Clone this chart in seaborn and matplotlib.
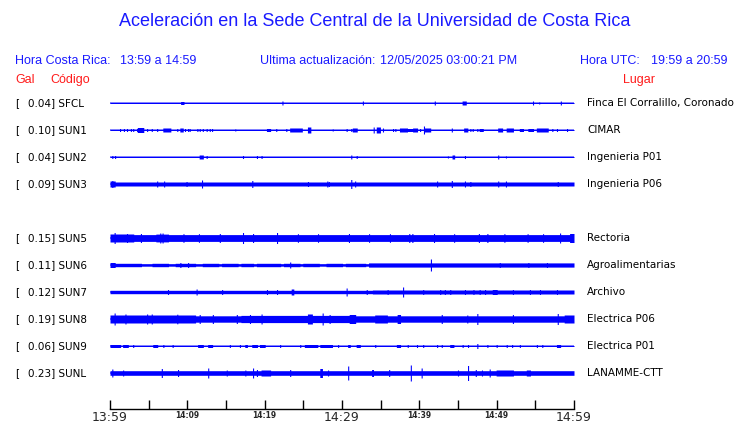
import matplotlib
matplotlib.use("Agg")
import matplotlib.pyplot as plt
import numpy as np
import pandas as pd
import seaborn as sns

# Station data (left/right labels)
codes = ["SFCL", "SUN1", "SUN2", "SUN3", "SUN5", "SUN6", "SUN7", "SUN8", "SUN9", "SUNL"]
gal = [0.04, 0.10, 0.04, 0.09, 0.15, 0.11, 0.12, 0.19, 0.06, 0.23]
places = ["Finca El Corralillo, Coronado", "CIMAR", "Ingenieria P01", "Ingenieria P06",
          "Rectoria", "Agroalimentarias", "Archivo", "Electrica P06", "Electrica P01",
          "LANAMME-CTT"]
rows = [0, 1, 2, 3, 5, 6, 7, 8, 9, 10]  # SUN4 slot left empty

# Trace amplitude (pixels of half-width):
# base level plus events (start minute, end minute, amplitude)
base = [0.5, 0.5, 0.5, 2.0, 3.4, 1.2, 1.7, 3.2, 0.5, 2.3]

ev_sfcl = [(9.2, 9.5, 1.5), (22.3, 22.3, 2), (32.7, 32.7, 2), (42.0, 42.0, 2), (45.6, 46.0, 2),
           (54.7, 54.7, 2), (55.5, 55.5, 1), (58.3, 58.3, 2)]
ev_sun1 = [(1.3, 1.3, 1.5), (1.8, 1.8, 1.5), (2.2, 2.2, 1.5), (2.7, 2.7, 1.5), (3.0, 3.0, 1.5),
           (3.5, 3.5, 1.5), (3.6, 4.3, 2.5), (4.8, 4.8, 1.5), (5.4, 5.4, 1.5), (6.1, 6.1, 1.5),
           (6.9, 7.8, 2), (8.7, 8.7, 1.5), (9.1, 9.4, 2), (9.7, 9.7, 1.5), (10.1, 10.1, 1.5),
           (10.3, 10.3, 1.5), (11.3, 11.3, 1.5), (11.6, 11.6, 1.5), (12.0, 12.0, 1.5),
           (12.5, 12.5, 1.5), (12.9, 12.9, 1.5), (13.2, 13.2, 1.5), (16.2, 16.2, 1),
           (20.3, 20.7, 1.5), (21.5, 21.5, 1.5), (22.8, 22.8, 1.5), (23.3, 24.8, 2),
           (25.6, 25.9, 3), (28.8, 28.8, 1), (30.6, 30.6, 1.5), (31.2, 31.2, 1.5),
           (31.4, 31.9, 2), (34.1, 34.1, 3), (34.5, 34.9, 3), (35.3, 35.3, 2), (36.6, 36.6, 1.5),
           (36.9, 36.9, 1.5), (37.5, 38.4, 2), (38.5, 39.1, 1.5), (39.2, 39.7, 2),
           (40.1, 40.1, 1.5), (40.6, 40.6, 4), (40.7, 41.4, 2), (44.2, 44.2, 2), (45.8, 46.2, 2),
           (46.6, 46.6, 1.5), (46.9, 46.9, 1.5), (47.5, 47.5, 1.5), (47.8, 48.2, 1.5),
           (50.2, 50.7, 2), (51.3, 52.1, 2), (53.0, 53.4, 1.5), (54.1, 54.7, 1.5),
           (55.2, 56.6, 2), (57.2, 57.2, 1.5), (57.8, 57.8, 1.5), (59.1, 59.1, 1.5)]
ev_sun2 = [(0.3, 0.3, 1.5), (0.65, 0.65, 1.5), (11.6, 12.0, 2), (12.5, 12.5, 1.5),
           (17.2, 17.2, 1.5), (19.0, 19.0, 1.5), (19.6, 19.6, 1.5), (31.2, 31.2, 2),
           (31.9, 31.9, 1.5), (43.7, 43.7, 1), (44.3, 44.5, 2), (45.9, 45.9, 1.5),
           (50.2, 50.2, 2), (51.2, 51.2, 1)]
ev_sun3 = [(0.0, 0.6, 3), (0.3, 0.3, 3.5), (6.1, 6.1, 3), (7.0, 7.0, 3), (9.9, 9.9, 2.5),
           (11.9, 11.9, 4), (18.4, 18.4, 3.5), (25.6, 25.6, 2.5), (28.1, 28.1, 3),
           (28.3, 28.3, 2.5), (31.2, 31.2, 4.5), (31.7, 31.7, 3), (42.3, 42.3, 3),
           (44.2, 44.2, 3.5), (45.9, 45.9, 3), (46.6, 46.6, 2.5), (50.2, 50.2, 3),
           (51.2, 51.2, 3), (57.9, 57.9, 2.5)]
ev_sun5 = [(0.0, 3.0, 4.0), (0.6, 0.6, 5.5), (6.0, 7.5, 3.9), (6.5, 6.5, 5), (6.8, 6.8, 5),
           (2.2, 2.2, 4.5), (4.0, 4.0, 4.5), (9.5, 9.5, 4.3), (11.5, 11.5, 4.3),
           (14.2, 14.2, 4.5), (17.2, 17.2, 5.5), (18.5, 18.5, 4.5), (21.6, 21.6, 5.5),
           (24.3, 24.3, 4.3), (26.9, 26.9, 4.3), (30.9, 30.9, 4.5), (33.5, 33.5, 4.3),
           (36.2, 36.2, 4.3), (38.7, 38.7, 4.5), (39.1, 39.1, 4.5), (41.9, 41.9, 4.5),
           (44.5, 44.5, 4.3), (47.7, 47.7, 4.5), (48.8, 48.8, 4.5), (51.0, 51.0, 4.3),
           (54.0, 54.0, 4.3), (56.0, 56.0, 4.3), (58.2, 58.2, 5), (59.5, 60.0, 4.5)]
ev_sun6 = [(0.0, 4.0, 1.7), (5.5, 7.5, 1.7), (8.5, 11.0, 1.7), (12.0, 14.0, 1.7),
           (14.5, 16.5, 1.7), (17.0, 18.5, 1.7), (19.0, 22.0, 1.7), (22.5, 24.5, 1.7),
           (25.0, 27.0, 1.7), (28.0, 30.0, 1.7), (30.5, 33.0, 1.7), (33.5, 60.0, 2.1),
           (0.0, 0.6, 2.5), (9.1, 9.1, 2.5), (10.1, 10.1, 2.5), (23.3, 23.3, 3),
           (41.5, 41.5, 6), (50.4, 50.4, 2.5), (54.1, 54.1, 2.5), (56.5, 56.5, 2.5)]
ev_sun7 = [(34.0, 60.0, 2.0), (7.5, 7.5, 2.5), (11.2, 11.2, 3), (14.5, 14.5, 2.5),
           (20.3, 20.3, 2.5), (21.6, 21.6, 2.5), (23.5, 23.7, 3), (30.6, 30.6, 4),
           (33.2, 33.2, 2.5), (35.9, 35.9, 2.5), (37.9, 37.9, 5), (40.5, 40.5, 2.5),
           (42.7, 42.7, 2.5), (43.3, 43.3, 2.5), (44.0, 44.0, 2.5), (45.9, 45.9, 2.5),
           (47.0, 47.0, 2.5), (47.8, 47.8, 2.5), (48.5, 48.5, 2.5), (49.5, 50.0, 2.5),
           (52.1, 52.1, 2.5), (54.3, 54.3, 2.5), (55.6, 55.6, 2.5), (57.8, 57.8, 2.5)]
ev_sun8 = [(0.0, 11.0, 4.0), (17.0, 31.0, 3.6),
           (0.6, 0.6, 6), (2.0, 2.0, 5), (4.8, 4.8, 5), (5.4, 5.4, 5), (8.7, 8.7, 4.8),
           (11.6, 11.6, 4.5), (13.3, 13.3, 4.5), (16.4, 16.4, 4.5), (18.1, 18.1, 4.5),
           (19.6, 19.6, 5), (25.6, 26.1, 5), (27.5, 27.5, 6), (28.4, 28.4, 4.5),
           (31.0, 31.7, 4.5), (34.3, 35.8, 4), (37.2, 37.5, 4.5), (42.9, 42.9, 4.5),
           (46.2, 46.2, 4), (47.5, 47.5, 5.5), (52.1, 52.1, 4.5), (57.9, 57.9, 5.5),
           (58.8, 60.0, 4)]
ev_sun9 = [(0.0, 1.3, 1.5), (1.7, 2.3, 1.5), (3.0, 3.0, 1.5), (5.6, 6.1, 1.5), (6.9, 6.9, 1.5),
           (8.1, 8.1, 1.5), (11.4, 12.0, 1.5), (12.7, 13.2, 1.5), (15.5, 15.5, 1.5),
           (16.8, 16.8, 1.5), (17.5, 17.7, 1.5), (18.4, 19.0, 1.5), (19.4, 20.0, 1.5),
           (22.0, 22.0, 1.5), (24.6, 24.6, 1.5), (25.2, 26.8, 1.5), (27.2, 28.7, 1.5),
           (29.5, 29.5, 1.5), (30.8, 31.0, 1.5), (31.9, 32.3, 1.5), (34.3, 34.3, 1.5),
           (37.1, 37.5, 1.5), (38.5, 38.5, 1.5), (39.7, 39.7, 1.5), (40.5, 40.5, 1.5),
           (42.3, 42.3, 1.5), (42.9, 42.9, 1.5), (44.0, 44.4, 1.5), (45.6, 45.6, 1.5),
           (46.3, 46.3, 1.5), (47.5, 47.5, 2.5), (48.8, 48.8, 1.5), (50.0, 50.0, 1.5),
           (51.3, 51.3, 1.5), (52.0, 52.0, 1.5), (53.0, 53.0, 1.5), (55.2, 55.2, 1.5),
           (55.9, 55.9, 1.5), (57.8, 58.2, 1.5)]
ev_sunl = [(0.3, 0.3, 4), (1.7, 1.7, 3), (6.7, 6.7, 4.5), (8.8, 8.8, 3.5), (12.7, 12.7, 5),
           (15.1, 15.1, 3), (17.5, 17.5, 3), (18.5, 18.5, 5), (19.0, 19.0, 3.5),
           (19.6, 20.7, 3), (23.3, 23.3, 3.5), (27.2, 27.4, 4.5), (28.2, 28.2, 3),
           (30.8, 30.8, 7), (33.9, 34.0, 3.5), (36.1, 36.1, 3.5), (38.9, 38.9, 8),
           (40.3, 40.3, 5), (45.0, 45.0, 3), (46.3, 46.3, 7.5), (47.3, 47.3, 3.5),
           (48.1, 48.1, 3), (49.1, 49.1, 4), (50.0, 52.1, 3), (53.9, 54.3, 3)]
events = [ev_sfcl, ev_sun1, ev_sun2, ev_sun3, ev_sun5, ev_sun6, ev_sun7, ev_sun8, ev_sun9, ev_sunl]

tick_min = list(range(0, 61, 5))
tick_text = {0: "13:59", 10: "14:09", 20: "14:19", 30: "14:29", 40: "14:39", 50: "14:49", 60: "14:59"}
big_ticks = [0, 30, 60]

BLUE = "#0000ff"
RED = "#ff1a1a"
HEAD = "#1a1aff"
W, H = 740, 423
ROW_PX = 27.0

sns.set_style("white")
plt.rcParams['font.family'] = ['DejaVu Sans']

fig = plt.figure(figsize=(W / 100, H / 100), dpi=100)
# axes spans x 110..574 px, y 90..409 px
ax = fig.add_axes([110 / W, 1 - 409 / H, (574 - 110) / W, (409 - 90) / H])

t = np.arange(0, 60.0001, 0.02)
spike_w = 0.07
frames = []
for code, r, b, evs in zip(codes, rows, base, events):
    env = np.full_like(t, b)
    for t0, t1, a in evs:
        m = (t >= t0 - spike_w) & (t <= t1 + spike_w)
        env[m] = np.maximum(env[m], a)
    yc = -r
    frames.append(pd.DataFrame({"t": t, "station": code,
                                "lo": yc - env / ROW_PX, "hi": yc + env / ROW_PX}))
    ax.fill_between(t, yc - env / ROW_PX, yc + env / ROW_PX, step="mid",
                    color=BLUE, linewidth=0, antialiased=False)
df = pd.concat(frames)
sns.lineplot(data=df.assign(mid=(df.lo + df.hi) / 2), x="t", y="mid", units="station",
             estimator=None, color=BLUE, linewidth=0.7, ax=ax, legend=False)

ax.set_xlim(0, 60)
ax.set_ylim(-(409 - 103) / ROW_PX, (103 - 90) / ROW_PX)
for s in ["top", "left", "right"]:
    ax.spines[s].set_visible(False)
ax.spines["bottom"].set_color("black")
ax.spines["bottom"].set_linewidth(1)
ax.set_yticks([])
ax.set_xticks(tick_min)
ax.set_xticklabels([tick_text.get(m, "") for m in tick_min])
ax.tick_params(axis="x", direction="in", length=6.5, width=1, color="black", pad=1.5,
               bottom=True)
for m, lab in zip(tick_min, ax.get_xticklabels()):
    if m in big_ticks:
        lab.set_fontsize(9)
    else:
        lab.set_fontsize(5.5)
        lab.set_fontweight("bold")
ax.set_xlabel("")
ax.set_ylabel("")


def px(x, y):
    return x / W, 1 - y / H


head = dict(family="Liberation Sans", fontsize=9, color=HEAD, va="center")
fig.text(*px(375, 22), "Aceleración en la Sede Central de la Universidad de Costa Rica",
         family="Liberation Sans", fontsize=13, color=HEAD, ha="center", va="center")
fig.text(*px(15, 61), "Hora Costa Rica:", **head)
fig.text(*px(120.5, 61), "13:59 a 14:59", **head)
fig.text(*px(260, 61), "Ultima actualización:", **head)
fig.text(*px(380, 61), "12/05/2025 03:00:21 PM", **head)
fig.text(*px(580, 61), "Hora UTC:", **head)
fig.text(*px(651, 61), "19:59 a 20:59", **head)
red = dict(family="Liberation Sans", fontsize=9, color=RED, va="center")
fig.text(*px(15, 80), "Gal", **red)
fig.text(*px(50, 80), "Código", **red)
fig.text(*px(623, 80), "Lugar", **red)

for code, g, place, r in zip(codes, gal, places, rows):
    y = 103 + r * ROW_PX
    fig.text(*px(15, y), "[", fontsize=7.5, color="black", va="center")
    fig.text(*px(27.5, y), f"{g:.2f}] {code}", fontsize=7.5, color="black", va="center")
    fig.text(*px(587, y), place, fontsize=7.5, color="black", va="center")

fig.savefig("out.png", dpi=100)
